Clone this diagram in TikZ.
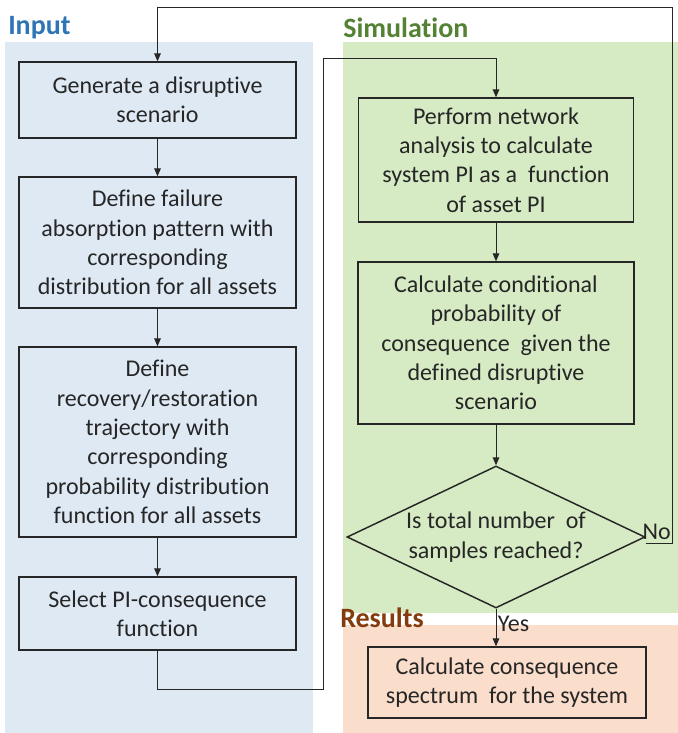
\documentclass[tikz,border=0pt]{standalone}
\usepackage{fontspec}
\setmainfont[Ligatures=NoCommon]{Carlito}
\usepackage{xcolor}
\usepackage{tikz}
\usetikzlibrary{positioning,arrows.meta,shapes.geometric}
\definecolor{inbg}{RGB}{222,233,244}
\definecolor{simbg}{RGB}{214,235,196}
\definecolor{resbg}{RGB}{250,221,203}
\definecolor{inhead}{RGB}{46,117,182}
\definecolor{simhead}{RGB}{84,130,53}
\definecolor{reshead}{RGB}{132,60,12}
\definecolor{ink}{RGB}{38,38,38}
\tikzset{
  blk/.style  ={draw=ink, rectangle, align=center, line width=1.1pt, text=ink, inner sep=0pt, font=\fontsize{18}{22}\selectfont},
  dec/.style  ={draw=ink, diamond, aspect=2.1, align=center, line width=1.1pt, text=ink, inner sep=0pt, font=\fontsize{18}{22}\selectfont},
  head/.style ={anchor=west, inner sep=0pt, font=\fontsize{21}{25}\selectfont\bfseries},
  tag/.style  ={text=ink, inner sep=1pt, font=\fontsize{18}{22}\selectfont},
  arr/.style  ={-{Triangle[length=6pt,width=5pt]}, line width=0.75pt, draw=ink},
}

\begin{document}
\begin{tikzpicture}[x=0.75pt, y=-0.75pt]
  \useasboundingbox (0,0) rectangle (678,733);
  % panels
  \fill[inbg]  (5,42)   rectangle (313,733);
  \fill[simbg] (343,42) rectangle (678,613);
  \fill[resbg] (343,625) rectangle (678,733);
  \node[head, text=inhead]  (hin)  at (8,28)    {Input};
  \node[head, text=simhead] (hsim) at (343,28)  {Simulation};
  \node[head, text=reshead] (hres) at (340,618) {Results};

  % input column
  \node[blk, fill=inbg, minimum width=207.75pt, minimum height=57pt]    (gen)  at (157.5,100)   {Generate a disruptive\\scenario};
  \node[blk, fill=inbg, minimum width=207.75pt, minimum height=98.25pt] (fail) at (157.5,242.5) {Define failure\\absorption pattern with\\corresponding\\distribution for all assets};
  \node[blk, fill=inbg, minimum width=207.75pt, minimum height=142.5pt] (rec)  at (157.5,442)   {Define\\recovery/restoration\\trajectory with\\corresponding\\probability distribution\\function for all assets};
  \node[blk, fill=inbg, minimum width=207.75pt, minimum height=54.75pt] (sel)  at (157.5,613.5) {Select PI-consequence\\function};

  % simulation column
  \node[blk, fill=simbg, minimum width=206.25pt, minimum height=93pt]    (net)  at (496,160) {Perform network\\analysis to calculate\\system PI as a\ \ function\\of asset PI};
  \node[blk, fill=simbg, minimum width=207pt, minimum height=121.5pt]    (cond) at (496,343) {Calculate conditional\\probability of\\consequence\ \ given the\\defined disruptive\\scenario};
  \node[dec, fill=simbg, minimum width=223.5pt, minimum height=106.5pt]  (done) at (496,537) {Is total number\ \ of\\samples reached?};

  % results
  \node[blk, fill=resbg, minimum width=208.5pt, minimum height=53.25pt]  (spec) at (507,682.5) {Calculate consequence\\spectrum\ \ for the system};

  \coordinate (jA) at (323,689);
  \coordinate (jB) at (323,58);
  \coordinate (jC) at (672,7);

  \draw[arr] (gen) -- (fail);
  \draw[arr] (fail) -- (rec);
  \draw[arr] (rec) -- (sel);
  \draw[arr] (sel.south) |- (jA) -- (jB) -| (net.north);
  \draw[arr] (net) -- (cond);
  \draw[arr] (cond) -- (done);
  \draw[arr] (done.south) -- (done.south |- spec.north) node[tag, midway, anchor=west, yshift=3pt] (yes) {Yes};
  \draw[arr] ([yshift=-4.5pt]done.east) -| (jC) -| (gen.north);
  \node[tag, anchor=south east, inner sep=0pt] (no) at (671,540) {No};
\end{tikzpicture}
\end{document}
